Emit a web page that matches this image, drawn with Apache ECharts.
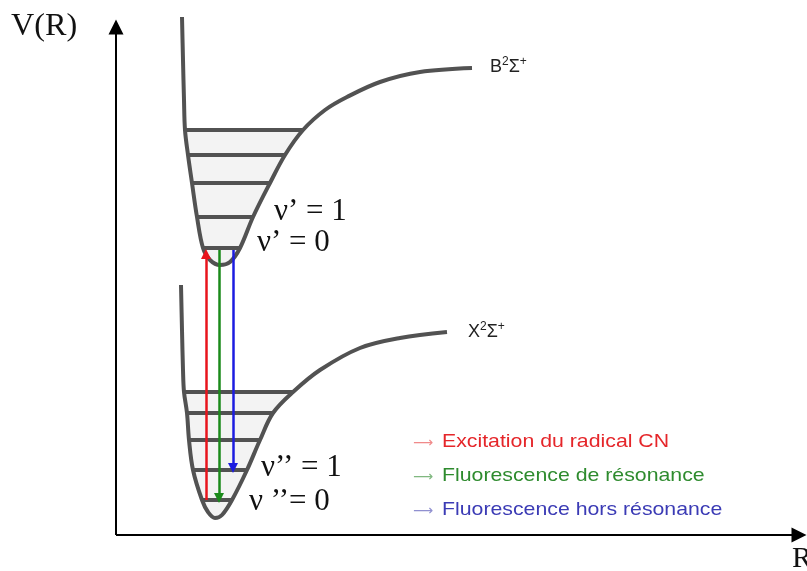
<!DOCTYPE html>
<html><head><meta charset="utf-8">
<script src="https://cdn.jsdelivr.net/npm/echarts@6/dist/echarts.min.js"></script>
<style>html,body{margin:0;padding:0;background:#fff}#c{width:807px;height:571px}</style>
</head><body><div id="c"></div>
<script>
// Potential curve B²Σ⁺ (upper state): [R, V] (V grows downward on screen)
const upperCurve = [[182,17],[183,60],[184,100],[185,130],[188,155],[192,183],[197,217],[203,248],[210,260],[220,265],[230,262],[240,248],[253,217],[270,183],[285,155],[303,130],[325,110],[347,97],[380,82],[420,72],[472,68]];
// Potential curve X²Σ⁺ (ground state)
const lowerCurve = [[181,285],[182,330],[183,370],[184,392],[187,413],[189,440],[193,470],[202,500],[208,512],[215,518],[222,515],[232,500],[247,470],[260,440],[273,413],[293,392],[320,370],[360,348],[400,338],[447,332]];
// Vibrational levels: [V, R left, R right]
const upperLevels = [[130,185,303],[155,188,285],[183,192,270],[217,197,253],[248,203,240]];
const lowerLevels = [[392,184,293],[413,187,273],[440,189,260],[470,193,247],[500,202,232]];
// Transitions
const transitionNames = ['Excitation du radical CN','Fluorescence de résonance','Fluorescence hors résonance'];
const transitionR = [206,219,233];
const transitionFrom = [500,250,250];
const transitionTo = [254,498,468];
const transitionColors = ['#e8141c','#1a8a1a','#1c1ce0'];
const legendTextColors = ['#e5262a','#2e8b2e','#3b3bb5'];
const legendArrowColors = ['#f08a8a','#80b880','#9090d0'];
// Axes
const axisOrigin = [116,535];
const axisEnds = [[116,27],[799,535]];
const stateLetters = ['B','X'];
const upperLevelLabels = ['ν’ = 1','ν’ = 0'];
const lowerLevelLabels = ['ν’’ = 1','ν ’’= 0'];

const curveColor = '#525252';
const chart = echarts.init(document.getElementById('c'), null, {renderer:'canvas'});

function wellPolygon(curve, topV){
  return curve.filter(p => p[1] >= topV - 1);
}

const fillSeries = (curve, topV) => ({
  type:'custom', silent:true, z:1,
  data:[[0,0]],
  renderItem:(params, api) => ({
    type:'polygon',
    shape:{points: wellPolygon(curve, topV).map(p => api.coord(p))},
    style:{fill:'#f3f3f3'}
  })
});

const serif = '"Liberation Serif", "Times New Roman", serif';
const sans = '"Liberation Sans", Arial, sans-serif';
function label(text, x, y, size, extra){
  return Object.assign({type:'text', x:x, y:y, style:{text:text, x:0, y:0, font:size+'px '+serif, fill:'#111', verticalAlign:'middle'}}, extra||{});
}
function stateLabel(letter, x, y){
  return {type:'text', x:x, y:y, style:{
    text:'{b|'+letter+'}{s|2}{b|Σ}{s|+}', x:0, y:0, verticalAlign:'middle',
    rich:{
      b:{fontFamily:'"Liberation Sans", Arial, sans-serif', fontSize:18, fill:'#222', lineHeight:20, verticalAlign:'bottom'},
      s:{fontFamily:'"Liberation Sans", Arial, sans-serif', fontSize:12, fill:'#222', lineHeight:20, verticalAlign:'top'}
    }}};
}

chart.setOption({
  animation:false,
  grid:{left:0,right:0,top:0,bottom:0},
  xAxis:{type:'value',min:0,max:807,show:false},
  yAxis:{type:'value',min:0,max:571,inverse:true,show:false},
  series:[
    fillSeries(upperCurve, upperLevels[0][0]),
    fillSeries(lowerCurve, lowerLevels[0][0]),
    {type:'line', data:upperCurve, smooth:0.35, symbol:'none', z:3,
     lineStyle:{color:curveColor, width:4}},
    {type:'line', data:lowerCurve, smooth:0.35, symbol:'none', z:3,
     lineStyle:{color:curveColor, width:4}},
    {type:'lines', coordinateSystem:'cartesian2d', z:3, symbol:'none',
     lineStyle:{color:curveColor, width:4, opacity:1},
     data: upperLevels.concat(lowerLevels).map(l => ({coords:[[l[1],l[0]],[l[2],l[0]]]}))},
    {type:'lines', coordinateSystem:'cartesian2d', z:5, symbol:['none','triangle'], symbolSize:10,
     data: transitionR.map((r,i) => ({coords:[[r,transitionFrom[i]],[r,transitionTo[i]]],
        lineStyle:{color:transitionColors[i], width:2.5, opacity:1}}))},
    {type:'lines', coordinateSystem:'cartesian2d', z:5, symbol:['none','triangle'], symbolSize:[14,15],
     lineStyle:{color:'#000', width:2, opacity:1},
     data: axisEnds.map(e => ({coords:[axisOrigin, e]}))}
  ],
  graphic:[
    label('V(R)', 11, 27, 31, {scaleX:1.04}),
    label('R', 792, 559, 30),
    stateLabel(stateLetters[0], 490, 66),
    stateLabel(stateLetters[1], 468, 331),
    label(upperLevelLabels[0], 274, 212, 31),
    label(upperLevelLabels[1], 257, 243, 31),
    label(lowerLevelLabels[0], 261, 468, 31),
    label(lowerLevelLabels[1], 249, 502, 31)
  ].concat(transitionNames.flatMap((n,i) => [
    {type:'text', x:413, y:443 + i*34, style:{text:'⟶', x:0, y:0, font:'14px "DejaVu Sans", sans-serif', fill:legendArrowColors[i], verticalAlign:'middle'}},
    {type:'text', x:442, y:442 + i*34, scaleX:1.12, style:{text:n, x:0, y:0, font:'19px '+sans, fill:legendTextColors[i], verticalAlign:'middle'}}
  ]))
});
</script></body></html>
